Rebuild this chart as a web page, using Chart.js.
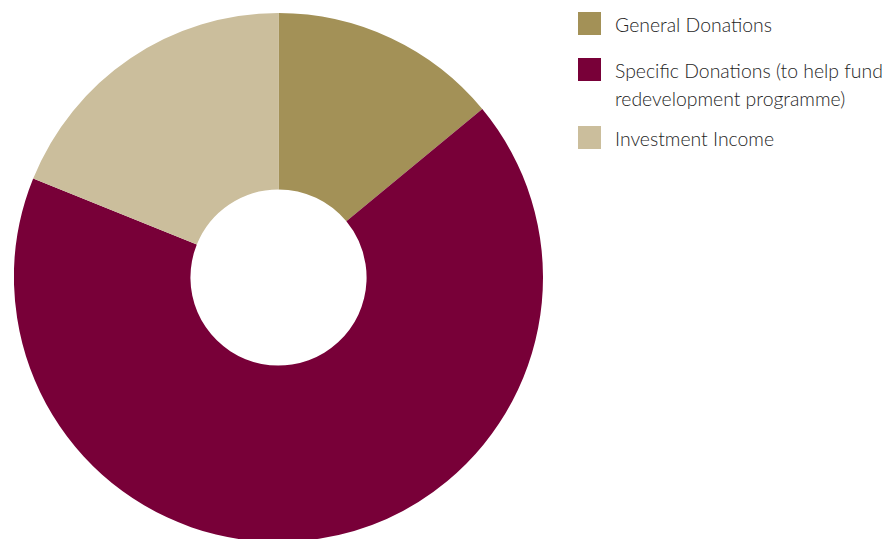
<!DOCTYPE html>
<html>
<head>
<meta charset="utf-8">
<script src="https://cdn.jsdelivr.net/npm/chart.js@4/dist/chart.umd.min.js"></script>
<style>
  html, body { margin: 0; padding: 0; background: #ffffff; width: 888px; height: 539px; overflow: hidden; }
  #wrap { position: absolute; left: 14px; top: 13px; width: 529px; height: 529px; }
  #legend { position: absolute; left: 578px; top: 0; font-family: Lato, "Open Sans", sans-serif; font-weight: 300; font-size: 19.4px; color: #1e1e1e; }
  .item { position: absolute; left: 0; white-space: nowrap; }
  .box { position: absolute; left: 0; width: 23px; height: 23px; }
  .txt { position: absolute; left: 37px; line-height: 28px; }
</style>
</head>
<body>
<div id="wrap"><canvas id="c" width="529" height="529"></canvas></div>
<div id="legend"></div>
<script>
const categories = ["General Donations", "Specific Donations (to help fund\nredevelopment programme)", "Investment Income"];
const values = [14, 67.1, 18.9];
const colors = ["#A39157", "#780038", "#CBBE9C"];

const legendTops = [12, 58, 126];
const legend = document.getElementById('legend');
categories.forEach((cat, i) => {
  const item = document.createElement('div');
  item.className = 'item';
  item.style.top = legendTops[i] + 'px';
  const box = document.createElement('div');
  box.className = 'box';
  box.style.background = colors[i];
  const txt = document.createElement('div');
  txt.className = 'txt';
  txt.style.top = '-1px';
  cat.split('\n').forEach((line, j) => {
    if (j > 0) txt.appendChild(document.createElement('br'));
    txt.appendChild(document.createTextNode(line));
  });
  item.appendChild(box);
  item.appendChild(txt);
  legend.appendChild(item);
});

new Chart(document.getElementById('c'), {
  type: 'doughnut',
  data: {
    labels: categories.map(c => c.replace('\n', ' ')),
    datasets: [{
      data: values,
      backgroundColor: colors,
      borderWidth: 0,
      hoverOffset: 0
    }]
  },
  options: {
    responsive: false,
    animation: false,
    cutout: '33.3%',
    layout: { padding: 0 },
    plugins: { legend: { display: false }, tooltip: { enabled: false } }
  }
});
</script>
</body>
</html>
